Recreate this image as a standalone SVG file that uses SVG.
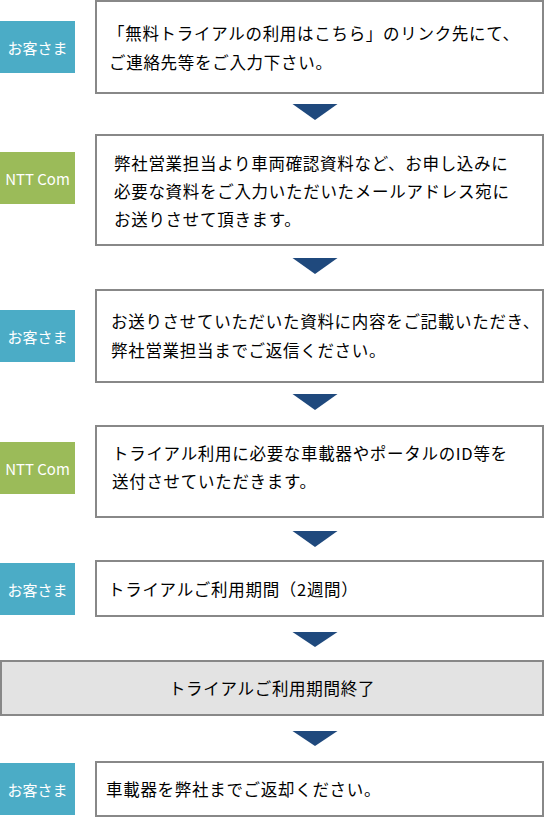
<svg xmlns="http://www.w3.org/2000/svg" width="546" height="817" viewBox="0 0 546 817">
<style>
.bg{fill:#ffffff}
.box{fill:#ffffff;stroke:#888888;stroke-width:2}
.end{fill:#e3e3e3;stroke:#888888;stroke-width:2}
.cust{fill:#4bacc6}
.ntt{fill:#9bbb59}
.lbl{font-family:"Noto Sans CJK JP","Noto Sans",sans-serif;font-size:15px;fill:#ffffff;text-anchor:middle;dominant-baseline:central}
.t{font-family:"Noto Sans CJK JP",sans-serif;font-size:16.5px;fill:#000000;letter-spacing:0.7px;dominant-baseline:central}
.tri{fill:#1f497d}
</style>
<rect class="bg" x="0" y="0" width="546" height="817"/>
<g id="step1">
<rect class="cust" x="0" y="21" width="75" height="52"/>
<text class="lbl" x="37.5" y="47">お客さま</text>
<rect class="box" x="96" y="1" width="447" height="92"/>
<text class="t" x="108" y="33">「無料トライアルの利用はこちら」のリンク先にて、</text>
<text class="t" x="109" y="62">ご連絡先等をご入力下さい。</text>
</g>
<g id="step2">
<rect class="ntt" x="0" y="152" width="75" height="52"/>
<text class="lbl" x="37.5" y="178">NTT Com</text>
<rect class="box" x="96" y="135" width="447" height="110"/>
<text class="t" x="114" y="163">弊社営業担当より車両確認資料など、お申し込みに</text>
<text class="t" x="114" y="191">必要な資料をご入力いただいたメールアドレス宛に</text>
<text class="t" x="114" y="219">お送りさせて頂きます。</text>
</g>
<g id="step3">
<rect class="cust" x="0" y="310" width="75" height="52"/>
<text class="lbl" x="37.5" y="336">お客さま</text>
<rect class="box" x="96" y="290" width="447" height="92"/>
<text class="t" x="111" y="321">お送りさせていただいた資料に内容をご記載いただき、</text>
<text class="t" x="111" y="350">弊社営業担当までご返信ください。</text>
</g>
<g id="step4">
<rect class="ntt" x="0" y="442" width="75" height="52"/>
<text class="lbl" x="37.5" y="468">NTT Com</text>
<rect class="box" x="96" y="426" width="447" height="91"/>
<text class="t" x="112" y="453">トライアル利用に必要な車載器やポータルのID等を</text>
<text class="t" x="112" y="481">送付させていただきます。</text>
</g>
<g id="step5">
<rect class="cust" x="0" y="563" width="75" height="52"/>
<text class="lbl" x="37.5" y="589">お客さま</text>
<rect class="box" x="96" y="561" width="447" height="55"/>
<text class="t" x="108" y="589">トライアルご利用期間（2週間）</text>
</g>
<g id="step6">
<rect class="end" x="1" y="661" width="542" height="54"/>
<text class="t" x="272" y="688" text-anchor="middle">トライアルご利用期間終了</text>
</g>
<g id="step7">
<rect class="cust" x="0" y="763" width="75" height="52"/>
<text class="lbl" x="37.5" y="789">お客さま</text>
<rect class="box" x="96" y="762" width="447" height="54"/>
<text class="t" x="106" y="789">車載器を弊社までご返却ください。</text>
</g>
<g id="connectors">
<polygon class="tri" points="292.5,104 337.5,104 315,120"/>
<polygon class="tri" points="292.5,258 337.5,258 315,274"/>
<polygon class="tri" points="292.5,394 337.5,394 315,410"/>
<polygon class="tri" points="292.5,531 337.5,531 315,547"/>
<polygon class="tri" points="292.5,632 337.5,632 315,647"/>
<polygon class="tri" points="292.5,731 337.5,731 315,746"/>
</g>
</svg>
